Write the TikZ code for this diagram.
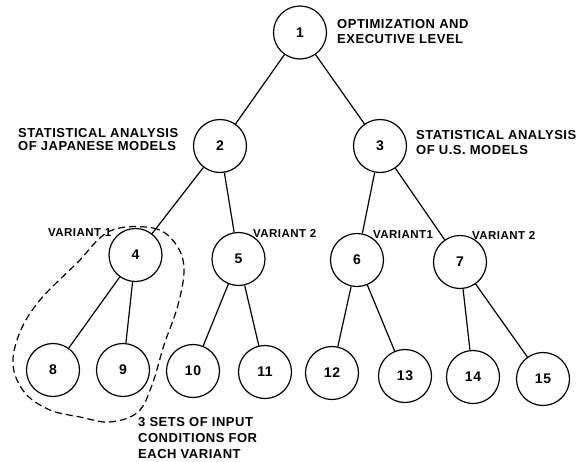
\documentclass[tikz,border=0pt]{standalone}
\usepackage{fontspec}
\setmainfont{Liberation Sans}[LetterSpace=4]
\begin{document}
\begin{tikzpicture}[x=1pt,y=-1pt,
  vertex/.style={circle,draw,line width=1.2pt,minimum size=53pt,inner sep=0pt,font=\bfseries\fontsize{14}{14}\selectfont},
  lbl/.style={anchor=north west,align=left,inner sep=0pt,font=\bfseries\fontsize{13}{15}\selectfont},
  vlbl/.style={anchor=west,inner sep=0pt,font=\bfseries\fontsize{11.5}{12}\selectfont},
  link/.style={line width=1.2pt},
  groupline/.style={dash pattern=on 7pt off 4pt,line width=1.2pt}]
\useasboundingbox[fill=white] (0,0) rectangle (584,461);
% nodes
\node[vertex] (n1) at (300,32.5) {1};
\node[vertex] (n2) at (220,146) {2};
\node[vertex] (n3) at (380,146) {3};
\node[vertex] (n4) at (135.5,255) {4};
\node[vertex] (n5) at (238.5,259) {5};
\node[vertex] (n6) at (357,260) {6};
\node[vertex] (n7) at (460,262) {7};
\node[vertex] (n8) at (53,370) {8};
\node[vertex] (n9) at (123,370) {9};
\node[vertex] (n10) at (193,371) {10};
\node[vertex] (n11) at (265,372) {11};
\node[vertex] (n12) at (332,373) {12};
\node[vertex] (n13) at (405,376) {13};
\node[vertex] (n14) at (473,377) {14};
\node[vertex] (n15) at (543,379) {15};
% connectors
\draw[link] (n1) -- (n2);
\draw[link] (n1) -- (n3);
\draw[link] (n2) -- (n4);
\draw[link] (n2) -- (n5);
\draw[link] (n3) -- (n6);
\draw[link] (n3) -- (n7);
\draw[link] (n4) -- (n8);
\draw[link] (n4) -- (n9);
\draw[link] (n5) -- (n10);
\draw[link] (n5) -- (n11);
\draw[link] (n6) -- (n12);
\draw[link] (n6) -- (n13);
\draw[link] (n7) -- (n14);
\draw[link] (n7) -- (n15);
% labels
\node[lbl] (t1) at (337,19.5) {OPTIMIZATION AND\\EXECUTIVE LEVEL};
\node[lbl,font=\bfseries\fontsize{13}{12.7}\selectfont] (t2) at (18,128.5) {STATISTICAL ANALYSIS\\OF JAPANESE MODELS};
\node[lbl] (t3) at (416,130.5) {STATISTICAL ANALYSIS\\OF U.S. MODELS};
\node[vlbl] (v4) at (48,233) {VARIANT 1};
\node[vlbl] (v5) at (253,233) {VARIANT 2};
\node[vlbl] (v6) at (373,235) {VARIANT1};
\node[vlbl] (v7) at (472,235) {VARIANT 2};
\node[lbl,font=\bfseries\fontsize{13}{16}\selectfont] (t8) at (138,417.5) {3 SETS OF INPUT\\CONDITIONS FOR\\EACH VARIANT};
% dashed group outline
\draw[groupline] plot[smooth cycle,tension=0.6] coordinates {
  (110,231) (153,228) (175,243) (184,268) (178,305) (164,345) (152,385)
  (138,412) (110,422) (80,417) (50,410) (25,393) (13,365) (20,332)
  (40,300) (77,263)};
\end{tikzpicture}
\end{document}
